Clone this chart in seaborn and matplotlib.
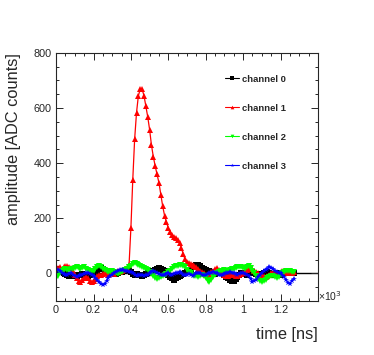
import matplotlib
matplotlib.use("Agg")
import matplotlib.pyplot as plt
import seaborn as sns
import pandas as pd
import numpy as np
from matplotlib.ticker import MultipleLocator, FuncFormatter

# sample times (10 ns sampling)
time_ns = np.arange(0, 1280, 10)

ch0 = [15, 18, 12, 8, 2,
       -2, -6, -8, -5, -7,
       -10, -8, -4, -6, -3,
       -5, -8, -10, -6, -2,
       2, 6, 12, 18, 20,
       16, 10, 6, 4, 8,
       5, 0, -3, 2, 4,
       6, 8, 10, 12, 8,
       4, -2, -5, -3, -6,
       -4, -8, -6, -2, 0,
       2, 5, 8, 12, 16,
       20, 18, 14, 8, 2,
       -5, -12, -18, -22, -18,
       -14, -10, -6, -2, 0,
       4, 8, 14, 22, 28,
       32, 30, 26, 20, 16,
       12, 8, 10, 6, 2,
       -2, 0, 4, 6, 2,
       -6, -12, -18, -24, -28,
       -26, -20, -12, -6, 0,
       2, -2, -4, 0, 4,
       6, 2, -2, -6, -4,
       -2, 2, 6, 4, 0,
       -4, -6, -2, 2, 0,
       -4, -2, 2, 6, 8,
       6, 4, 2]

ch1 = [25, 20, 22, 18, 24,
       26, 28, 24, 20, 10,
       -5, -18, -28, -30, -24,
       -16, -12, -18, -26, -30,
       -28, -20, -8, -4, -6,
       -2, 4, 2, -4, 0,
       2, -2, 4, 8, 6,
       10, 14, 18, 20, 30,
       165, 340, 487, 583, 645,
       668, 668, 645, 607, 568,
       522, 465, 423, 389, 359,
       329, 286, 244, 210, 186,
       165, 150, 141, 134, 129,
       123, 111, 93, 69, 51,
       41, 38, 36, 32, 26,
       22, 16, 10, 4, 0,
       -4, -6, -2, 4, 10,
       16, 20, 14, 6, 0,
       -4, -8, -10, -6, -2,
       -6, -10, -8, -4, -2,
       2, 6, 12, 18, 20,
       16, 10, 4, 0, -4,
       -6, -10, -12, -8, -4,
       0, 2, -2, -6, -2,
       4, 8, 10, 6, 2,
       0, 2, 4]

ch2 = [-15, -8, 2, 10, 14,
       16, 14, 12, 15, 18,
       20, 22, 20, 18, 20,
       22, 18, 14, 10, 8,
       10, 16, 22, 26, 24,
       18, 12, 8, 4, 6,
       8, 4, 0, -2, 2,
       6, 10, 14, 18, 22,
       28, 34, 38, 36, 32,
       28, 24, 20, 16, 12,
       6, -2, -10, -16, -20,
       -18, -14, -10, -6, -2,
       4, 10, 16, 22, 26,
       28, 30, 32, 28, 22,
       14, 6, 0, -4, -8,
       -10, -12, -8, -4, -10,
       -18, -26, -30, -24, -14,
       -6, 0, 4, 8, 10,
       12, 10, 8, 12, 16,
       18, 20, 22, 24, 22,
       20, 18, 22, 26, 20,
       10, 0, -10, -20, -28,
       -30, -26, -22, -18, -14,
       -10, -8, -12, -16, -12,
       -6, 0, 4, 8, 10,
       8, 6, 4]

ch3 = [10, 14, 8, 2, -2,
       -4, -6, -2, 0, -4,
       -8, -12, -10, -6, -4,
       -2, 0, 2, -2, -6,
       -10, -16, -24, -32, -38,
       -42, -38, -28, -16, -8,
       -4, 0, 4, 8, 12,
       14, 12, 10, 8, 6,
       4, 0, -4, -8, -6,
       -4, -6, -8, -6, -4,
       0, 4, 8, 6, 2,
       -2, -4, -6, -4, -2,
       0, -4, -6, -2, 0,
       2, 4, 0, -4, -6,
       -4, -2, -6, -8, -4,
       0, 2, 0, -4, -6,
       -4, -2, 0, 2, 4,
       2, 0, -4, -6, -4,
       -2, 0, 2, 4, 2,
       0, -2, -4, -2, 0,
       2, -2, -6, -10, -20,
       -30, -28, -22, -14, -6,
       2, 8, 14, 18, 22,
       20, 16, 10, 6, 2,
       0, -6, -14, -24, -34,
       -38, -28, -20]

channels = ['channel 0', 'channel 1', 'channel 2', 'channel 3']
colors = ['black', 'red', '#00ff00', 'blue']
markers = ['s', '^', 'v', '*']

df = pd.DataFrame({
    'time': np.tile(time_ns, 4),
    'amplitude': ch0 + ch1 + ch2 + ch3,
    'channel': np.repeat(channels, len(time_ns)),
})

sns.set_style('ticks')
plt.rcParams['font.family'] = ['Liberation Sans', 'DejaVu Sans']

fig = plt.figure(figsize=(3.74, 3.55), dpi=100)
ax = fig.add_axes([0.150, 0.152, 0.700, 0.699])

ax.axhline(0, color='black', lw=1.0, zorder=0)
sns.lineplot(data=df, x='time', y='amplitude', hue='channel', style='channel',
             palette=colors, markers=markers, dashes=False, ax=ax,
             linewidth=0.9, markersize=3.8, markeredgewidth=0, sort=False)

ax.set_xlim(0, 1400)
ax.set_ylim(-100, 800)
ax.xaxis.set_major_locator(MultipleLocator(200))
ax.xaxis.set_minor_locator(MultipleLocator(50))
ax.yaxis.set_major_locator(MultipleLocator(200))
ax.yaxis.set_minor_locator(MultipleLocator(50))
# ROOT style: no label on the last tick, the exponent sits there instead
ax.xaxis.set_major_formatter(FuncFormatter(
    lambda v, p: '' if v > 1300 else ('0' if v == 0 else f'{v/1000:g}')))
ax.tick_params(which='both', direction='in', top=True, right=True, labelsize=7.8, width=0.7, pad=3)
ax.tick_params(which='major', length=5)
ax.tick_params(which='minor', length=2.5)
for s in ax.spines.values():
    s.set_linewidth(0.8)

ax.text(1.002, 0.02, '×10$^3$', transform=ax.transAxes, fontsize=7.5, ha='left', va='center')

ax.set_xlabel('time [ns]', fontsize=11.8, loc='right')
ax.set_ylabel('amplitude [ADC counts]', fontsize=11.8, loc='top')
ax.xaxis.set_label_coords(1.0, -0.105)
ax.yaxis.set_label_coords(-0.134, 1.0)

handles, labels = ax.get_legend_handles_labels()
for h in handles:
    h.set_linewidth(0.8)
ax.legend(handles, labels, loc='upper left', bbox_to_anchor=(0.645, 0.912), frameon=False,
          prop={'weight': 'bold', 'size': 6.8}, handlelength=1.5, handletextpad=0.3,
          labelspacing=2.12, borderpad=0, borderaxespad=0, markerscale=0.7)

fig.savefig('out.png', dpi=100)
